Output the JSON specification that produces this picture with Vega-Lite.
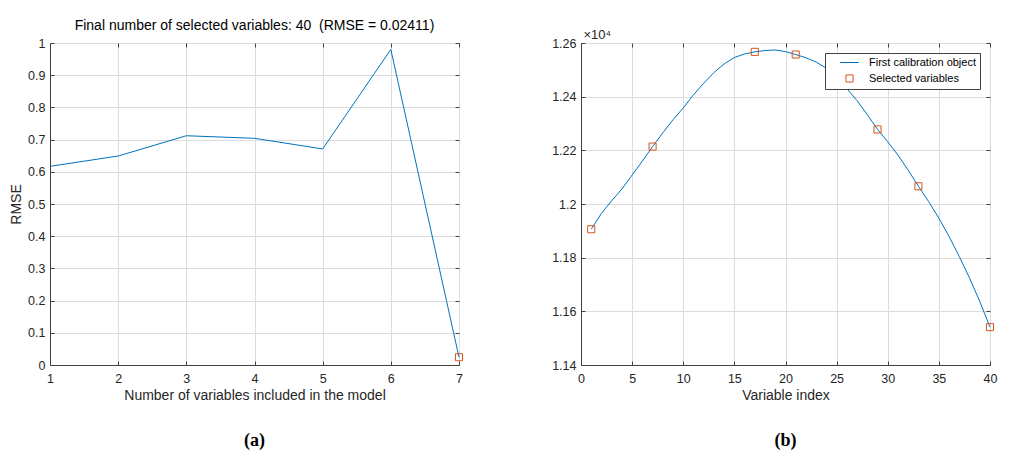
{
  "$schema": "https://vega.github.io/schema/vega-lite/v6.json",
  "background": "white",
  "padding": {"left": 9, "top": 18, "right": 5, "bottom": 5},
  "datasets": {
    "rmse": [
      {"n": 1, "rmse": 0.617},
      {"n": 2, "rmse": 0.649},
      {"n": 3, "rmse": 0.712},
      {"n": 4, "rmse": 0.704},
      {"n": 5, "rmse": 0.671},
      {"n": 6, "rmse": 0.980},
      {"n": 7, "rmse": 0.02411}
    ],
    "rmseSel": [
      {"n": 7, "rmse": 0.02411}
    ],
    "spectrum": [
      {"index": 1, "value": 11906}, {"index": 2, "value": 11965}, {"index": 3, "value": 12012},
      {"index": 4, "value": 12056}, {"index": 5, "value": 12108}, {"index": 6, "value": 12160},
      {"index": 7, "value": 12214}, {"index": 8, "value": 12265}, {"index": 9, "value": 12314},
      {"index": 10, "value": 12358}, {"index": 11, "value": 12407}, {"index": 12, "value": 12450},
      {"index": 13, "value": 12490}, {"index": 14, "value": 12522}, {"index": 15, "value": 12546},
      {"index": 16, "value": 12559}, {"index": 17, "value": 12567}, {"index": 18, "value": 12572},
      {"index": 19, "value": 12574}, {"index": 20, "value": 12568}, {"index": 21, "value": 12557},
      {"index": 22, "value": 12545}, {"index": 23, "value": 12529}, {"index": 24, "value": 12506},
      {"index": 25, "value": 12470}, {"index": 26, "value": 12430}, {"index": 27, "value": 12385},
      {"index": 28, "value": 12333}, {"index": 29, "value": 12278}, {"index": 30, "value": 12232},
      {"index": 31, "value": 12182}, {"index": 32, "value": 12126}, {"index": 33, "value": 12066},
      {"index": 34, "value": 12009}, {"index": 35, "value": 11947}, {"index": 36, "value": 11879},
      {"index": 37, "value": 11804}, {"index": 38, "value": 11724}, {"index": 39, "value": 11637},
      {"index": 40, "value": 11541}
    ],
    "selected": [
      {"index": 1, "value": 11906},
      {"index": 7, "value": 12214},
      {"index": 17, "value": 12567},
      {"index": 21, "value": 12557},
      {"index": 29, "value": 12278},
      {"index": 33, "value": 12066},
      {"index": 40, "value": 11541}
    ]
  },
  "columns": 2,
  "spacing": {"column": 85, "row": 28},
  "resolve": {"legend": {"color": "independent", "shape": "independent"}},
  "concat": [
    {
      "width": 409,
      "height": 322,
      "title": {"text": "Final number of selected variables: 40 \u00a0(RMSE = 0.02411)"},
      "layer": [
        {
          "data": {"name": "rmse"},
          "mark": {"type": "line", "color": "#0072BD", "strokeWidth": 1},
          "encoding": {
            "x": {
              "field": "n", "type": "quantitative",
              "scale": {"domain": [1, 7], "nice": false},
              "axis": {"title": "Number of variables included in the model", "values": [1, 2, 3, 4, 5, 6, 7], "grid": true}
            },
            "y": {
              "field": "rmse", "type": "quantitative",
              "scale": {"domain": [0, 1], "nice": false},
              "axis": {"title": "RMSE", "values": [0, 0.1, 0.2, 0.3, 0.4, 0.5, 0.6, 0.7, 0.8, 0.9, 1], "format": "~g", "grid": true}
            }
          }
        },
        {
          "data": {"name": "rmseSel"},
          "mark": {"type": "point", "shape": "square", "filled": false, "color": "#D95319", "size": 50, "strokeWidth": 1, "opacity": 1},
          "encoding": {
            "x": {
              "field": "n", "type": "quantitative",
              "axis": {"orient": "top", "labels": false, "title": null, "domain": false, "grid": false, "values": [1, 2, 3, 4, 5, 6, 7]}
            },
            "y": {
              "field": "rmse", "type": "quantitative",
              "axis": {"orient": "right", "labels": false, "title": null, "domain": false, "grid": false, "values": [0, 0.1, 0.2, 0.3, 0.4, 0.5, 0.6, 0.7, 0.8, 0.9, 1]}
            }
          }
        }
      ],
      "resolve": {"axis": {"x": "independent", "y": "independent"}}
    },
    {
      "width": 409,
      "height": 322,
      "layer": [
        {
          "data": {"name": "spectrum"},
          "mark": {"type": "line", "strokeWidth": 1},
          "encoding": {
            "x": {
              "field": "index", "type": "quantitative",
              "scale": {"domain": [0, 40], "nice": false},
              "axis": {"title": "Variable index", "values": [0, 5, 10, 15, 20, 25, 30, 35, 40], "grid": true}
            },
            "y": {
              "field": "value", "type": "quantitative",
              "scale": {"domain": [11400, 12600], "nice": false, "zero": false},
              "axis": {
                "values": [11400, 11600, 11800, 12000, 12200, 12400, 12600],
                "labelExpr": "format(datum.value / 10000, '.2~f')",
                "grid": true,
                "title": "×10⁴",
                "titleAngle": 0,
                "titleAlign": "left",
                "titleBaseline": "bottom",
                "titleX": 2,
                "titleY": -2,
                "titleFontSize": 13
              }
            },
            "color": {
              "datum": "First calibration object", "type": "nominal",
              "scale": {"domain": ["First calibration object", "Selected variables"], "range": ["#0072BD", "#D95319"]},
              "legend": {"title": null}
            }
          }
        },
        {
          "data": {"name": "selected"},
          "mark": {"type": "point", "filled": false, "size": 50, "strokeWidth": 1, "opacity": 1},
          "encoding": {
            "x": {
              "field": "index", "type": "quantitative",
              "axis": {"orient": "top", "labels": false, "title": null, "domain": false, "grid": false, "values": [0, 5, 10, 15, 20, 25, 30, 35, 40]}
            },
            "y": {
              "field": "value", "type": "quantitative",
              "axis": {"orient": "right", "labels": false, "title": null, "domain": false, "grid": false, "values": [11400, 11600, 11800, 12000, 12200, 12400, 12600]}
            },
            "color": {"datum": "Selected variables", "type": "nominal"},
            "shape": {
              "datum": "Selected variables", "type": "nominal",
              "scale": {"domain": ["First calibration object", "Selected variables"], "range": ["M-2.65,0H2.65", "square"]},
              "legend": {"title": null}
            }
          }
        }
      ],
      "resolve": {"axis": {"x": "independent", "y": "independent"}}
    },
    {
      "width": 409,
      "height": 20,
      "view": {"stroke": null},
      "data": {"values": [{"label": "(a)"}]},
      "mark": {"type": "text", "font": "Liberation Serif", "fontSize": 18, "fontWeight": "bold", "color": "#000000"},
      "encoding": {"text": {"field": "label", "type": "nominal"}}
    },
    {
      "width": 409,
      "height": 20,
      "view": {"stroke": null},
      "data": {"values": [{"label": "(b)"}]},
      "mark": {"type": "text", "font": "Liberation Serif", "fontSize": 18, "fontWeight": "bold", "color": "#000000"},
      "encoding": {"text": {"field": "label", "type": "nominal"}}
    }
  ],
  "config": {
    "view": {"stroke": "#404040", "strokeWidth": 1},
    "axis": {
      "labelFont": "Liberation Sans",
      "labelFontSize": 12.5,
      "labelColor": "#262626",
      "labelFlush": false,
      "labelOverlap": false,
      "titleFont": "Liberation Sans",
      "titleFontSize": 14,
      "titleFontWeight": "normal",
      "titleColor": "#262626",
      "titlePadding": 4,
      "domainColor": "#404040",
      "tickColor": "#404040",
      "tickSize": -4,
      "gridColor": "#dcdcdc",
      "gridWidth": 1
    },
    "axisX": {"labelPadding": 11},
    "axisY": {"labelPadding": 9},
    "title": {"font": "Liberation Sans", "fontSize": 14, "fontWeight": "normal", "color": "#000000", "offset": 4, "anchor": "middle"},
    "legend": {
      "orient": "top-right",
      "offset": 10,
      "strokeColor": "#404040",
      "fillColor": "white",
      "padding": 4,
      "labelFont": "Liberation Sans",
      "labelFontSize": 11,
      "labelColor": "#000000",
      "labelOffset": 14,
      "symbolOffset": 15,
      "symbolSize": 50,
      "rowPadding": 4,
      "symbolStrokeWidth": 1
    }
  }
}
